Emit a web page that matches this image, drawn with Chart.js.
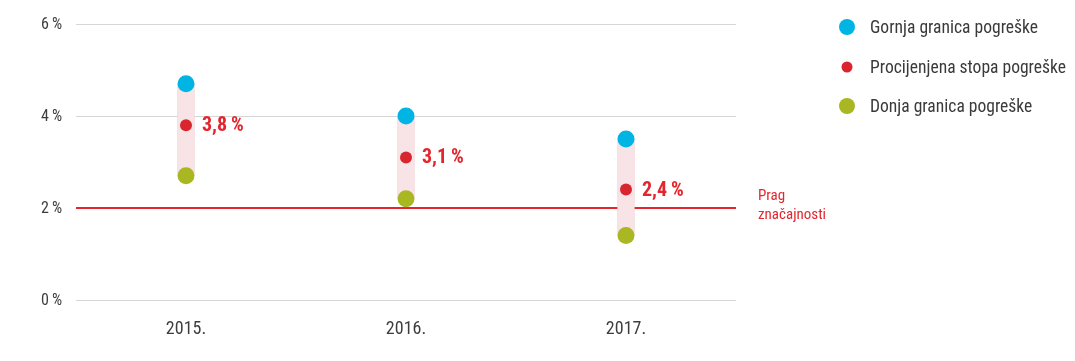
<!DOCTYPE html>
<html><head><meta charset="utf-8">
<script src="https://cdn.jsdelivr.net/npm/chart.js@4.4.0/dist/chart.umd.min.js"></script>
<style>html,body{margin:0;padding:0;background:#fff}#wrap{width:1075px;height:361px}</style>
</head><body><div id="wrap"><canvas id="c" width="1075" height="361"></canvas></div>
<script>
const categories = ['2015.', '2016.', '2017.'];
const upperLimit = [4.7, 4.0, 3.5];
const estimate = [3.8, 3.1, 2.4];
const lowerLimit = [2.7, 2.2, 1.4];
const yTicks = [0, 2, 4, 6];
const threshold = 2;
const seriesNames = ['Gornja granica pogreške', 'Procijenjena stopa pogreške', 'Donja granica pogreške'];
const thresholdLabel = ['Prag', 'značajnosti'];

const FONT = 'Roboto, "DejaVu Sans Condensed", sans-serif';
const BLUE = '#00b4e4', RED = '#d9262e', GREEN = '#a9b722', LRED = '#e4252d', TXT = '#3d3d3d';

function setFont(ctx, spec) {
  ctx.font = spec;
  try { ctx.fontStretch = 'condensed'; } catch (e) {}
}
const pct = v => String(v).replace('.', ',') + '\u2009%';

const labelsPlugin = {
  id: 'extras',
  afterDatasetsDraw(chart) {
    const ctx = chart.ctx, area = chart.chartArea, ys = chart.scales.y, xs = chart.scales.x;
    ctx.save();
    ctx.textBaseline = 'middle';
    ctx.fillStyle = TXT;
    setFont(ctx, '16px ' + FONT);
    ctx.textAlign = 'right';
    ys.ticks.forEach((t, i) => {
      ctx.fillText(pct(t.value), area.left - 14, ys.getPixelForTick(i) + 1);
    });
    setFont(ctx, '18px ' + FONT);
    ctx.textAlign = 'center';
    categories.forEach((c, i) => {
      ctx.fillText(c, xs.getPixelForTick(i), area.bottom + 29);
    });
    ctx.textAlign = 'left';
    ctx.fillStyle = LRED;
    setFont(ctx, 'bold 20px ' + FONT);
    const meta = chart.getDatasetMeta(2);
    meta.data.forEach((pt, i) => {
      ctx.fillText(estimate[i].toFixed(1).replace('.', ',') + '\u2009%', pt.x + 16, pt.y + 1, 44);
    });
    const ty = ys.getPixelForValue(threshold);
    setFont(ctx, '15px ' + FONT);
    ctx.fillText(thresholdLabel[0], area.right + 22, ty - 12);
    ctx.fillText(thresholdLabel[1], area.right + 22, ty + 7);
    const colors = [BLUE, RED, GREEN];
    const radii = [8, 5.5, 8];
    const ly = [27, 67, 106];
    setFont(ctx, '19px ' + FONT);
    const k = 168 / ctx.measureText(seriesNames[0]).width;
    seriesNames.forEach((n, i) => {
      ctx.beginPath();
      ctx.fillStyle = colors[i];
      ctx.arc(847, ly[i], radii[i], 0, Math.PI * 2);
      ctx.fill();
      ctx.fillStyle = '#3a3a3a';
      ctx.fillText(n, 870, ly[i] + 1, ctx.measureText(n).width * k);
    });
    ctx.restore();
  }
};

new Chart(document.getElementById('c'), {
  type: 'bar',
  data: {
    labels: categories,
    datasets: [
      { type: 'bar', label: 'range', data: categories.map((c, i) => [lowerLimit[i], upperLimit[i]]),
        backgroundColor: '#f8e4e6', borderColor: '#f1d6da', borderWidth: 1, barThickness: 17, order: 4 },
      { type: 'line', label: seriesNames[0], data: upperLimit, showLine: false,
        pointRadius: 8.5, pointHoverRadius: 8.5, pointBackgroundColor: BLUE, pointBorderWidth: 0, order: 1 },
      { type: 'line', label: seriesNames[1], data: estimate, showLine: false,
        pointRadius: 6, pointHoverRadius: 6, pointBackgroundColor: RED, pointBorderWidth: 0, order: 2 },
      { type: 'line', label: seriesNames[2], data: lowerLimit, showLine: false,
        pointRadius: 8.5, pointHoverRadius: 8.5, pointBackgroundColor: GREEN, pointBorderWidth: 0, order: 3 }
    ]
  },
  options: {
    responsive: false,
    animation: false,
    devicePixelRatio: 1,
    layout: { padding: { top: 24, right: 339, bottom: 0, left: 0 } },
    plugins: { legend: { display: false }, tooltip: { enabled: false } },
    scales: {
      x: {
        offset: true,
        grid: { display: false },
        border: { display: false },
        ticks: { display: false },
        afterFit: s => { s.height = 61; }
      },
      y: {
        min: 0, max: 6,
        afterBuildTicks: s => { s.ticks = yTicks.map(v => ({ value: v })); },
        grid: {
          drawTicks: false,
          color: c => c.tick && c.tick.value === threshold ? LRED : '#d6d6d6',
          lineWidth: c => c.tick && c.tick.value === threshold ? 2 : 1
        },
        border: { display: false },
        ticks: { display: false },
        afterFit: s => { s.width = 76; }
      }
    }
  },
  plugins: [labelsPlugin]
});
</script></body></html>
